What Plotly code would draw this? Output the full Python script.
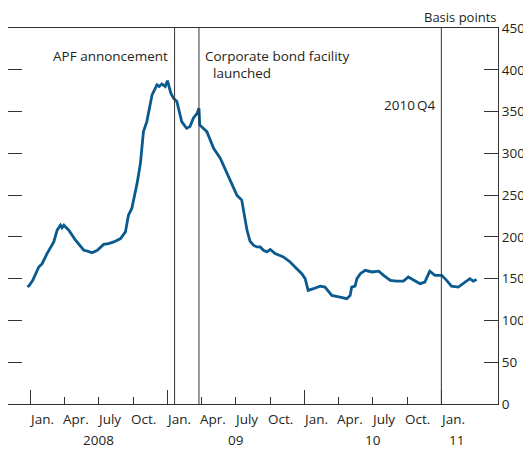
import plotly.graph_objects as go

# ---- data ----
dates = [
    "2007-12-24", "2007-12-29", "2008-01-07", "2008-01-14", "2008-01-23", "2008-02-01",
    "2008-02-14", "2008-03-03", "2008-03-12", "2008-03-21", "2008-03-25", "2008-03-30",
    "2008-04-12", "2008-04-30", "2008-05-22", "2008-06-01", "2008-06-13", "2008-06-27",
    "2008-07-14", "2008-07-27", "2008-08-10", "2008-08-28", "2008-09-10", "2008-09-18",
    "2008-09-27", "2008-10-11", "2008-10-20", "2008-10-28", "2008-11-06", "2008-11-20",
    "2008-12-03", "2008-12-09", "2008-12-16", "2008-12-25", "2008-12-31", "2009-01-09",
    "2009-01-16", "2009-01-25", "2009-02-07", "2009-02-20", "2009-03-01", "2009-03-10",
    "2009-03-20", "2009-03-25", "2009-03-27", "2009-04-15", "2009-05-03", "2009-05-21",
    "2009-06-08", "2009-06-25", "2009-07-04", "2009-07-17", "2009-07-31", "2009-08-08",
    "2009-08-17", "2009-08-26", "2009-09-04", "2009-09-13", "2009-09-22", "2009-10-01",
    "2009-10-14", "2009-11-05", "2009-11-23", "2009-12-06", "2009-12-24", "2010-01-02",
    "2010-01-10", "2010-01-24", "2010-02-11", "2010-02-24", "2010-03-14", "2010-04-05",
    "2010-04-23", "2010-05-02", "2010-05-06", "2010-05-15", "2010-05-20", "2010-05-29",
    "2010-06-11", "2010-06-29", "2010-07-17", "2010-07-30", "2010-08-17", "2010-09-02",
    "2010-09-21", "2010-10-04", "2010-10-18", "2010-11-04", "2010-11-17", "2010-11-30",
    "2010-12-14", "2011-01-01", "2011-01-14", "2011-01-27", "2011-02-14", "2011-02-27",
    "2011-03-17", "2011-03-26", "2011-04-04",
]
spread_bp = [
    140, 142, 148, 156, 164, 168,
    180, 194, 208, 214, 211, 214,
    208, 196, 184, 183, 181, 184,
    191, 192, 194, 198, 206, 226,
    234, 264, 288, 326, 338, 370,
    382, 380, 383, 380, 387, 372,
    366, 362, 338, 330, 332, 342,
    348, 354, 334, 326, 306, 294,
    276, 260, 250, 244, 208, 195,
    190, 188, 188, 184, 182, 185,
    180, 176, 170, 164, 156, 150,
    136, 138, 141, 140, 130, 128,
    126, 130, 140, 141, 150, 156,
    160, 158, 159, 154, 148, 147,
    147, 152, 148, 144, 146, 159,
    154, 154, 148, 141, 140, 144,
    150, 147, 149,
]

event_dates = ["2009-01-19", "2009-03-25", "2010-12-31"]

quarter_dates = [
    "2008-01-01", "2008-04-01", "2008-07-01", "2008-10-01",
    "2009-01-01", "2009-04-01", "2009-07-01", "2009-10-01",
    "2010-01-01", "2010-04-01", "2010-07-01", "2010-10-01",
    "2011-01-01",
]
quarter_labels = ["Jan.", "Apr.", "July", "Oct.", "Jan.", "Apr.", "July", "Oct.",
                  "Jan.", "Apr.", "July", "Oct.", "Jan."]
year_dates = ["2008-01-01", "2009-01-01", "2010-01-01", "2011-01-01"]
year_label_pos = ["2008-07-01", "2009-07-01", "2010-07-01", "2011-02-10"]
year_labels = ["2008", "09", "10", "11"]

y_ticks = [0, 50, 100, 150, 200, 250, 300, 350, 400, 450]

FONT = "Open Sans"
FS = 13.5
TXT = "#231f20"
AX = "#333333"
LINE = "#0a5a8f"

fig = go.Figure()
fig.add_trace(go.Scatter(x=dates, y=spread_bp, mode="lines",
                         line=dict(color=LINE, width=2.8), hoverinfo="skip",
                         showlegend=False))

for d in event_dates:
    fig.add_shape(type="line", xref="x", yref="paper", x0=d, x1=d, y0=0, y1=1,
                  line=dict(color=AX, width=1))

annotations = []
for d, t in zip(quarter_dates, quarter_labels):
    annotations.append(dict(x=d, xref="x", y=0, yref="paper", text=t, showarrow=False,
                            xanchor="left", yanchor="middle", xshift=-4, yshift=-15,
                            font=dict(family=FONT, size=FS, color=TXT)))
for d, t in zip(year_label_pos, year_labels):
    annotations.append(dict(x=d, xref="x", y=0, yref="paper", text=t, showarrow=False,
                            xanchor="center", yanchor="middle", yshift=-36,
                            font=dict(family=FONT, size=FS, color=TXT)))

annotations += [
    dict(x=event_dates[0], xref="x", y=417, yref="y", text="APF annoncement",
         showarrow=False, xanchor="right", yanchor="middle", xshift=-5,
         font=dict(family=FONT, size=FS, color=TXT)),
    dict(x=event_dates[1], xref="x", y=417, yref="y", text="Corporate bond facility",
         showarrow=False, xanchor="left", yanchor="middle", xshift=4,
         font=dict(family=FONT, size=FS, color=TXT)),
    dict(x=event_dates[1], xref="x", y=396, yref="y", text="launched",
         showarrow=False, xanchor="left", yanchor="middle", xshift=12,
         font=dict(family=FONT, size=FS, color=TXT)),
    dict(x=event_dates[2], xref="x", y=358, yref="y", text="2010\u2009Q4",
         showarrow=False, xanchor="right", yanchor="middle", xshift=-3,
         font=dict(family=FONT, size=FS, color=TXT)),
    dict(x=1, xref="paper", y=1, yref="paper", text="Basis points",
         showarrow=False, xanchor="right", yanchor="middle", yshift=11.5,
         borderpad=0, font=dict(family=FONT, size=13, color=TXT)),
]

# the page body adds an 8px offset, so the figure is sized to fill the rest of the window
fig.update_layout(
    width=523, height=442,
    margin=dict(l=0, r=33, t=20, b=46),
    paper_bgcolor="white", plot_bgcolor="white",
    annotations=annotations,
    font=dict(family=FONT, size=FS, color=TXT),
)
fig.update_xaxes(
    type="date", range=["2007-11-02", "2011-05-31"],
    showgrid=False, zeroline=False,
    showline=True, linecolor=AX, linewidth=1, mirror=True,
    tickmode="array", tickvals=year_dates, ticks="inside", ticklen=14,
    tickcolor=AX, tickwidth=1, showticklabels=False,
    minor=dict(tickmode="array", tickvals=quarter_dates, ticks="inside", ticklen=7,
               tickcolor=AX, tickwidth=1, showgrid=False),
)
fig.update_yaxes(
    range=[0, 450], side="right", tickmode="array", tickvals=y_ticks,
    showgrid=False, zeroline=False,
    showline=True, linecolor=AX, linewidth=1, mirror="ticks",
    ticks="inside", ticklen=14, tickcolor=AX, tickwidth=1,
    tickfont=dict(family=FONT, size=FS, color=TXT),
)

fig.write_html("out.html")
